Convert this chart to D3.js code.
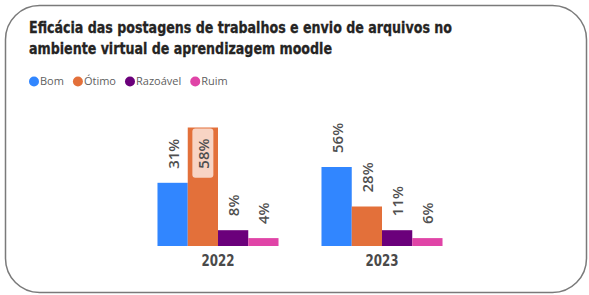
<!DOCTYPE html>
<html>
<head>
<meta charset="utf-8">
<script src="https://cdn.jsdelivr.net/npm/d3@7"></script>
<style>
  html, body { margin: 0; padding: 0; background: #fff; }
  svg { display: block; }
</style>
</head>
<body>
<svg id="chart" width="589" height="295"></svg>
<script>
// data: bar heights are respondent counts,
// labels are the share of each year's total
const years = ["2022", "2023"];
const series = ["Bom", "Ótimo", "Razoável", "Ruim"];
const counts2022 = [16, 30, 4, 2];
const counts2023 = [20, 10, 4, 2];
const colors = ["#3186ff", "#e3703a", "#6b007b", "#e044a7"];

const titleLines = [
  "Eficácia das postagens de trabalhos e envio de arquivos no",
  "ambiente virtual de aprendizagem moodle"
];

const width = 589;
const height = 295;
const svg = d3.select("#chart");

// card frame
svg.append("rect")
  .attr("x", 5.5)
  .attr("y", 5.5)
  .attr("width", 581)
  .attr("height", 287)
  .attr("rx", 34)
  .attr("fill", "#fff")
  .attr("stroke", "#7a7a7a")
  .attr("stroke-width", 1.5);

// title
const titleFont = "'DejaVu Sans Condensed', 'DejaVu Sans', sans-serif";
const titleWidths = [423, 303];
svg.append("g")
  .selectAll("text")
  .data(titleLines)
  .join("text")
  .attr("x", 29)
  .attr("y", (d, i) => 33 + i * 20.5)
  .attr("font-family", titleFont)
  .attr("font-weight", "bold")
  .attr("font-size", "16px")
  .attr("fill", "#252423")
  .attr("stroke", "#252423")
  .attr("stroke-width", 0.3)
  .attr("textLength", (d, i) => titleWidths[i])
  .attr("lengthAdjust", "spacingAndGlyphs")
  .text(d => d);

// legend
const legend = svg.append("g");
let lx = 29;
series.forEach((name, i) => {
  legend.append("circle")
    .attr("cx", lx + 5)
    .attr("cy", 81.5)
    .attr("r", 5)
    .attr("fill", colors[i]);
  const t = legend.append("text")
    .attr("x", lx + 11)
    .attr("y", 81.5)
    .attr("dy", "0.35em")
    .attr("font-family", "'Open Sans', sans-serif")
    .attr("font-size", "11px")
    .attr("fill", "#5f5f5f")
    .text(name);
  lx += 11 + t.node().getComputedTextLength() + 9;
});

// rows of the table the chart is built from
const table = years.map((year, yi) => {
  const vals = yi === 0 ? counts2022 : counts2023;
  const total = d3.sum(vals);
  return {
    year,
    bars: series.map((s, si) => ({
      series: s,
      index: si,
      value: vals[si],
      pct: Math.round(vals[si] / total * 100)
    }))
  };
});

// scales
const x0 = d3.scaleBand()
  .domain(years)
  .range([136, 464])
  .paddingInner(0.262)
  .paddingOuter(0.131);

const x1 = d3.scaleBand()
  .domain(series)
  .range([0, x0.bandwidth()]);

const yMax = d3.max(table, d => d3.max(d.bars, b => b.value));
const y = d3.scaleLinear()
  .domain([0, yMax])
  .range([246, 127.5]);

const groups = svg.append("g")
  .selectAll("g")
  .data(table)
  .join("g")
  .attr("transform", d => `translate(${x0(d.year)},0)`);

groups.selectAll("rect")
  .data(d => d.bars)
  .join("rect")
  .attr("x", d => x1(d.series))
  .attr("y", d => y(d.value))
  .attr("width", x1.bandwidth())
  .attr("height", d => y(0) - y(d.value))
  .attr("fill", d => colors[d.index]);

// data labels, rotated; the tallest bar gets its label inside with a tint box
const labelFont = "'Open Sans', sans-serif";
groups.each(function(g) {
  const grp = d3.select(this);
  g.bars.forEach(b => {
    const cx = x1(b.series) + x1.bandwidth() / 2;
    const top = y(b.value);
    const lab = grp.append("g");
    const txt = lab.append("text")
      .attr("font-family", labelFont)
      .attr("font-weight", 600)
      .attr("font-size", "15px")
      .attr("fill", "#4f4f4f")
      .attr("dominant-baseline", "central")
      .text(b.pct + "%");
    const len = txt.node().getComputedTextLength();
    if (top - 14 - len < 100) {
      const endY = top + 11;
      txt.attr("text-anchor", "end")
        .attr("transform", `translate(${cx},${endY}) rotate(-90)`);
      lab.insert("rect", "text")
        .attr("x", cx - 10.5)
        .attr("y", endY - 10)
        .attr("width", 21)
        .attr("height", len + 19)
        .attr("rx", 3)
        .attr("fill", "#f8d4c4");
    } else {
      txt.attr("text-anchor", "start")
        .attr("transform", `translate(${cx},${top - 14}) rotate(-90)`);
    }
  });
});

// category axis labels
svg.append("g")
  .selectAll("text")
  .data(years)
  .join("text")
  .attr("x", d => x0(d) + x0.bandwidth() / 2)
  .attr("y", 266)
  .attr("text-anchor", "middle")
  .attr("font-family", titleFont)
  .attr("font-weight", "bold")
  .attr("font-size", "15px")
  .attr("fill", "#4a4a4a")
  .attr("textLength", 33)
  .attr("lengthAdjust", "spacingAndGlyphs")
  .text(d => d);
</script>
</body>
</html>
